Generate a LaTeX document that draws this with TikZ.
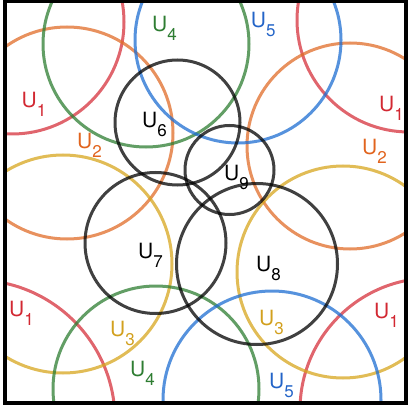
\documentclass[tikz,border=0pt]{standalone}
\usepackage{fontspec}
\setmainfont{TeX Gyre Heros}
\definecolor{cRed}{RGB}{214,50,60}
\definecolor{cOrange}{RGB}{224,108,40}
\definecolor{cGreen}{RGB}{46,125,50}
\definecolor{cBlue}{RGB}{30,110,210}
\definecolor{cYellow}{RGB}{215,165,30}
\definecolor{tRed}{RGB}{210,40,50}
\definecolor{tOrange}{RGB}{225,100,30}
\definecolor{tGreen}{RGB}{46,125,50}
\definecolor{tBlue}{RGB}{35,100,200}
\definecolor{tYellow}{RGB}{210,160,30}
\newcommand{\usub}[1]{\raisebox{-9pt}{\fontsize{17}{17}\selectfont #1}}
\begin{document}
\begin{tikzpicture}[x=1pt,y=-1pt,
  ring/.style={line width=3pt,opacity=0.75},
  lab/.style={anchor=base west,inner sep=0pt,font=\fontsize{21}{21}\selectfont}]
\useasboundingbox (0,0) rectangle (409,406);
\begin{scope}
\clip (5,1.5) rectangle (406,403);
% U1 (red)
\draw[ring,cRed] (12,22) circle[radius=112pt];
\draw[ring,cRed] (409,20) circle[radius=112pt];
\draw[ring,cRed] (-25,420) circle[radius=140pt];
\draw[ring,cRed] (432,410) circle[radius=132pt];
% U2 (orange)
\draw[ring,cOrange] (67,133) circle[radius=106pt];
\draw[ring,cOrange] (350,146) circle[radius=103pt];
% U3 (yellow)
\draw[ring,cYellow] (63,264) circle[radius=109pt];
\draw[ring,cYellow] (343,272) circle[radius=106pt];
% U4 (green)
\draw[ring,cGreen] (146,44) circle[radius=103pt];
\draw[ring,cGreen] (156,389) circle[radius=103pt];
% U5 (blue)
\draw[ring,cBlue] (238,40) circle[radius=103pt];
\draw[ring,cBlue] (272,400) circle[radius=109pt];
% U6..U9 (black)
\draw[ring,black] (177.5,122.5) circle[radius=62.5pt];
\draw[ring,black] (229.5,170) circle[radius=44.5pt];
\draw[ring,black] (155.5,243) circle[radius=70.5pt];
\draw[ring,black] (257,264) circle[radius=80.5pt];
\end{scope}
\draw[line width=4pt] (5,1.5) rectangle (406,403);
% labels
\node[lab,tRed] (l1a) at (21.5,107.5) {U\usub{1}};
\node[lab,tRed] (l1b) at (379,112) {U\usub{1}};
\node[lab,tRed] (l1c) at (9,316) {U\usub{1}};
\node[lab,tRed] (l1d) at (374,318) {U\usub{1}};
\node[lab,tOrange] (l2a) at (77,149) {U\usub{2}};
\node[lab,tOrange] (l2b) at (362,155) {U\usub{2}};
\node[lab,tYellow] (l3a) at (110,336) {U\usub{3}};
\node[lab,tYellow] (l3b) at (259,325) {U\usub{3}};
\node[lab,tGreen] (l4a) at (152,32) {U\usub{4}};
\node[lab,tGreen] (l4b) at (130,376) {U\usub{4}};
\node[lab,tBlue] (l5a) at (250.7,28) {U\usub{5}};
\node[lab,tBlue] (l5b) at (269,388) {U\usub{5}};
\node[lab,black] (l6) at (142,128) {U\usub{6}};
\node[lab,black] (l7) at (138,258) {U\usub{7}};
\node[lab,black] (l8) at (256,271) {U\usub{8}};
\node[lab,black] (l9) at (224,180) {U\usub{9}};
\end{tikzpicture}
\end{document}
